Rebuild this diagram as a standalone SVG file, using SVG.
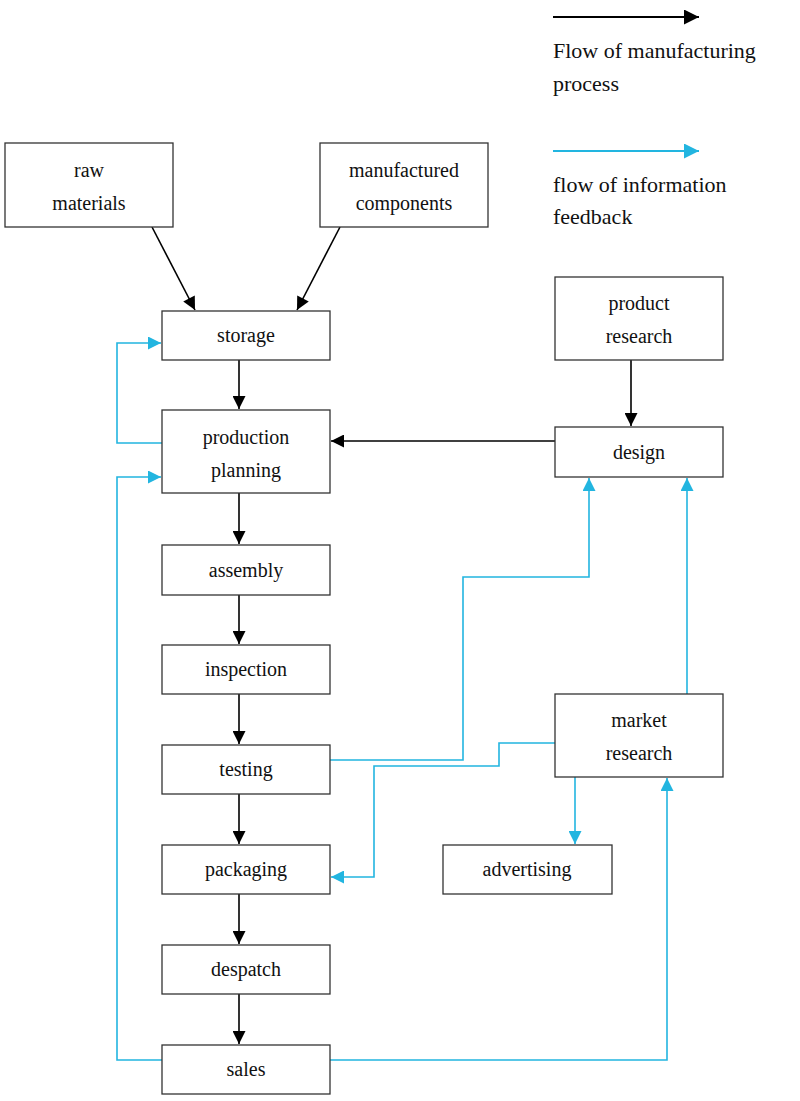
<svg xmlns="http://www.w3.org/2000/svg" width="800" height="1101" viewBox="0 0 800 1101">
<style>
.b{fill:#fff;stroke:#333;stroke-width:1.3}
text{font-family:"Liberation Serif",serif;font-size:20px;fill:#111;text-anchor:middle}
.lg{text-anchor:start;font-size:22px}
.k{fill:none;stroke:#000;stroke-width:1.6}
.c{fill:none;stroke:#22b5e0;stroke-width:1.6}
</style>
<defs>
<marker id="ak" viewBox="0 0 10 10" refX="10" refY="5" markerWidth="14" markerHeight="13" markerUnits="userSpaceOnUse" orient="auto"><path d="M0,0L10,5L0,10z" fill="#000"/></marker>
<marker id="ac" viewBox="0 0 10 10" refX="10" refY="5" markerWidth="14" markerHeight="13" markerUnits="userSpaceOnUse" orient="auto"><path d="M0,0L10,5L0,10z" fill="#22b5e0"/></marker>
<marker id="akl" viewBox="0 0 10 10" refX="10" refY="5" markerWidth="20" markerHeight="15" markerUnits="userSpaceOnUse" orient="auto"><path d="M0,0L10,5L0,10z" fill="#000"/></marker>
<marker id="acl" viewBox="0 0 10 10" refX="10" refY="5" markerWidth="20" markerHeight="15" markerUnits="userSpaceOnUse" orient="auto"><path d="M0,0L10,5L0,10z" fill="#22b5e0"/></marker>
</defs>
<rect width="800" height="1101" fill="#fff"/>
<g id="legend">
<path class="k" d="M553,17H699" marker-end="url(#akl)" style="stroke-width:2"/>
<text class="lg" x="553" y="58">Flow of manufacturing</text>
<text class="lg" x="553" y="91">process</text>
<path class="c" d="M553,151H699" marker-end="url(#acl)" style="stroke-width:2"/>
<text class="lg" x="553" y="192">flow of information</text>
<text class="lg" x="553" y="224">feedback</text>
</g>
<g id="connectors">
<path class="k" d="M152,227L195,310" marker-end="url(#ak)"/>
<path class="k" d="M340,227L297,310" marker-end="url(#ak)"/>
<path class="k" d="M239,360V409" marker-end="url(#ak)"/>
<path class="k" d="M239,493V544" marker-end="url(#ak)"/>
<path class="k" d="M239,595V644" marker-end="url(#ak)"/>
<path class="k" d="M239,694V744" marker-end="url(#ak)"/>
<path class="k" d="M239,794V844" marker-end="url(#ak)"/>
<path class="k" d="M239,894V944" marker-end="url(#ak)"/>
<path class="k" d="M239,994V1044" marker-end="url(#ak)"/>
<path class="k" d="M555,441H331" marker-end="url(#ak)"/>
<path class="k" d="M631,360V426" marker-end="url(#ak)"/>
<path class="c" d="M162,443H117V343H161" marker-end="url(#ac)"/>
<path class="c" d="M162,1060H117V477H161" marker-end="url(#ac)"/>
<path class="c" d="M330,760H463V577H589V478" marker-end="url(#ac)"/>
<path class="c" d="M555,743H499V766H374V877H331" marker-end="url(#ac)"/>
<path class="c" d="M575,777V844" marker-end="url(#ac)"/>
<path class="c" d="M687,694V478" marker-end="url(#ac)"/>
<path class="c" d="M330,1060H667V778" marker-end="url(#ac)"/>
</g>
<g id="raw"><rect class="b" x="5" y="143" width="168" height="84"/><text x="89" y="177">raw</text><text x="89" y="210">materials</text></g>
<g id="manuf"><rect class="b" x="320" y="143" width="168" height="84"/><text x="404" y="177">manufactured</text><text x="404" y="210">components</text></g>
<g id="storage"><rect class="b" x="162" y="311" width="168" height="49"/><text x="246" y="342">storage</text></g>
<g id="planning"><rect class="b" x="162" y="410" width="168" height="83"/><text x="246" y="444">production</text><text x="246" y="477">planning</text></g>
<g id="assembly"><rect class="b" x="162" y="545" width="168" height="50"/><text x="246" y="577">assembly</text></g>
<g id="inspection"><rect class="b" x="162" y="645" width="168" height="49"/><text x="246" y="676">inspection</text></g>
<g id="testing"><rect class="b" x="162" y="745" width="168" height="49"/><text x="246" y="776">testing</text></g>
<g id="packaging"><rect class="b" x="162" y="845" width="168" height="49"/><text x="246" y="876">packaging</text></g>
<g id="despatch"><rect class="b" x="162" y="945" width="168" height="49"/><text x="246" y="976">despatch</text></g>
<g id="sales"><rect class="b" x="162" y="1045" width="168" height="49"/><text x="246" y="1076">sales</text></g>
<g id="product-research"><rect class="b" x="555" y="277" width="168" height="83"/><text x="639" y="310">product</text><text x="639" y="343">research</text></g>
<g id="design"><rect class="b" x="555" y="427" width="168" height="50"/><text x="639" y="459">design</text></g>
<g id="market-research"><rect class="b" x="555" y="694" width="168" height="83"/><text x="639" y="727">market</text><text x="639" y="760">research</text></g>
<g id="advertising"><rect class="b" x="443" y="845" width="169" height="49"/><text x="527" y="876">advertising</text></g>
</svg>
